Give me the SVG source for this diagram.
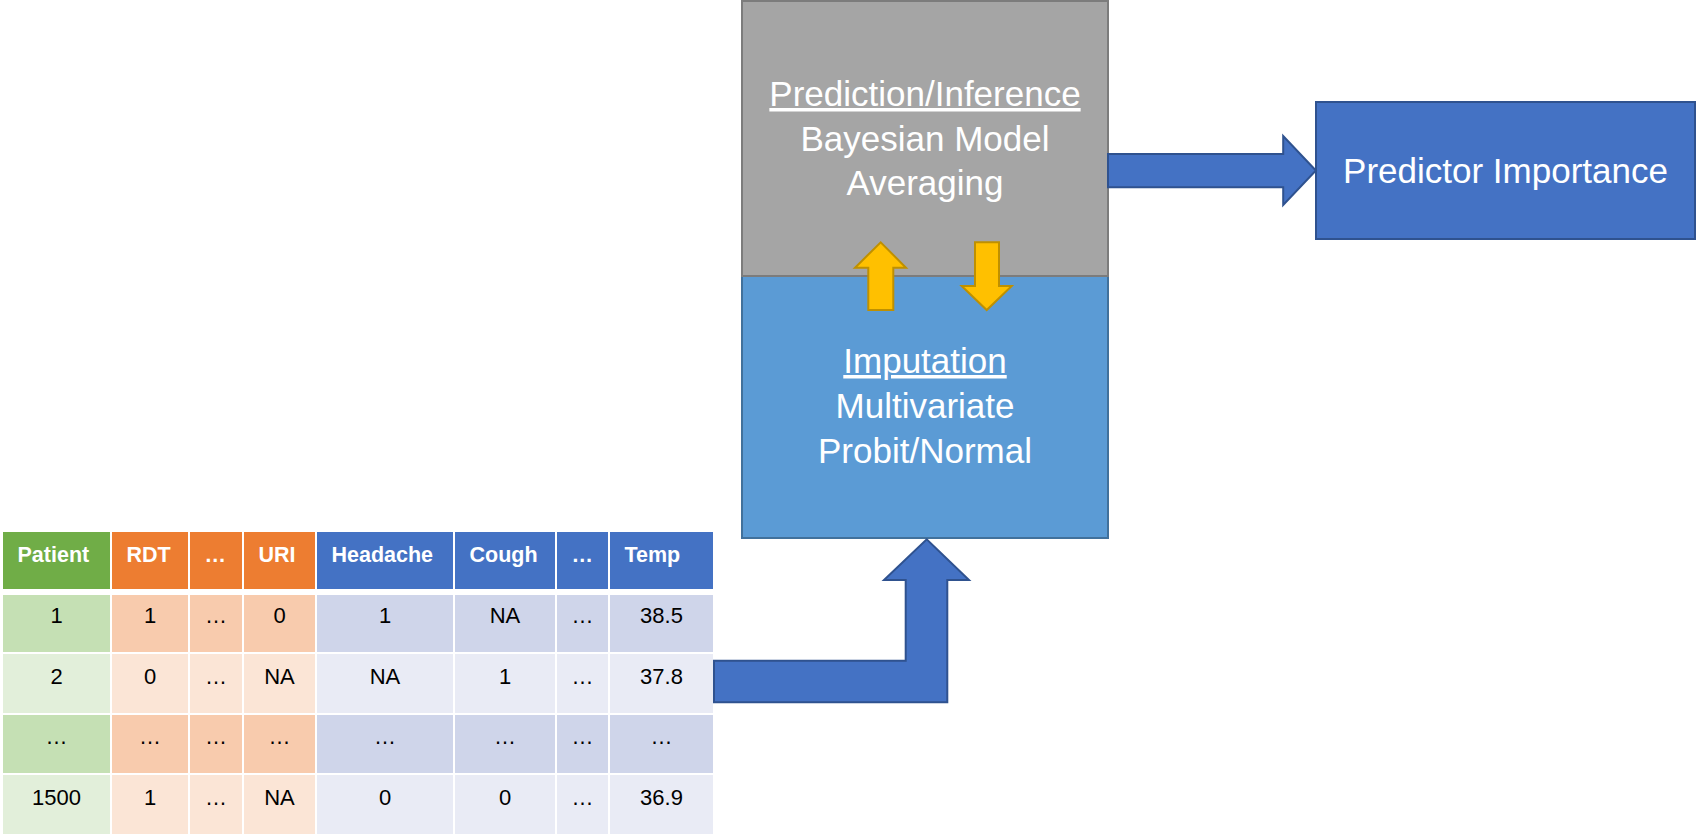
<svg xmlns="http://www.w3.org/2000/svg" width="1696" height="838" viewBox="0 0 1696 838">
<style>
.hd{font-family:"Liberation Sans",Arial,sans-serif;font-weight:bold;font-size:21.5px;fill:#fff}
.dt{font-family:"Liberation Sans",Arial,sans-serif;font-size:22px;fill:#000;text-anchor:middle}
.big{font-family:"Liberation Sans",Arial,sans-serif;font-size:35px;fill:#fff;text-anchor:middle}
.ul{text-decoration:underline}
.gH{fill:#70AD47}.oH{fill:#ED7D31}.bH{fill:#4472C4}
.g1{fill:#C5E0B4}.o1{fill:#F8CBAD}.b1{fill:#CFD5EA}
.g2{fill:#E2EFDA}.o2{fill:#FBE5D6}.b2{fill:#E9EBF5}
.yarrow{fill:#FFC000;stroke:#BF9000;stroke-width:2;stroke-linejoin:miter}
.barrow{fill:#4472C4;stroke:#2F528F;stroke-width:2;stroke-linejoin:miter}
</style>

<g id="table">
  <g id="header">
    <rect class="gH" x="3" y="532" width="107" height="57"/>
    <rect class="oH" x="112" y="532" width="76" height="57"/>
    <rect class="oH" x="190" y="532" width="52" height="57"/>
    <rect class="oH" x="244" y="532" width="71" height="57"/>
    <rect class="bH" x="317" y="532" width="136" height="57"/>
    <rect class="bH" x="455" y="532" width="100" height="57"/>
    <rect class="bH" x="557" y="532" width="51" height="57"/>
    <rect class="bH" x="610" y="532" width="103" height="57"/>
    <text class="hd" x="17.5" y="562">Patient</text>
    <text class="hd" x="126.5" y="562">RDT</text>
    <text class="hd" x="204.5" y="562">…</text>
    <text class="hd" x="258.5" y="562">URI</text>
    <text class="hd" x="331.5" y="562">Headache</text>
    <text class="hd" x="469.5" y="562">Cough</text>
    <text class="hd" x="571.5" y="562">…</text>
    <text class="hd" x="624.5" y="562">Temp</text>
  </g>
  <g id="row1">
    <rect class="g1" x="3" y="595" width="107" height="57"/>
    <rect class="o1" x="112" y="595" width="76" height="57"/>
    <rect class="o1" x="190" y="595" width="52" height="57"/>
    <rect class="o1" x="244" y="595" width="71" height="57"/>
    <rect class="b1" x="317" y="595" width="136" height="57"/>
    <rect class="b1" x="455" y="595" width="100" height="57"/>
    <rect class="b1" x="557" y="595" width="51" height="57"/>
    <rect class="b1" x="610" y="595" width="103" height="57"/>
    <text class="dt" x="56.5" y="623">1</text>
    <text class="dt" x="150" y="623">1</text>
    <text class="dt" x="216" y="623">…</text>
    <text class="dt" x="279.5" y="623">0</text>
    <text class="dt" x="385" y="623">1</text>
    <text class="dt" x="505" y="623">NA</text>
    <text class="dt" x="582.5" y="623">…</text>
    <text class="dt" x="661.5" y="623">38.5</text>
  </g>
  <g id="row2">
    <rect class="g2" x="3" y="654" width="107" height="59"/>
    <rect class="o2" x="112" y="654" width="76" height="59"/>
    <rect class="o2" x="190" y="654" width="52" height="59"/>
    <rect class="o2" x="244" y="654" width="71" height="59"/>
    <rect class="b2" x="317" y="654" width="136" height="59"/>
    <rect class="b2" x="455" y="654" width="100" height="59"/>
    <rect class="b2" x="557" y="654" width="51" height="59"/>
    <rect class="b2" x="610" y="654" width="103" height="59"/>
    <text class="dt" x="56.5" y="684">2</text>
    <text class="dt" x="150" y="684">0</text>
    <text class="dt" x="216" y="684">…</text>
    <text class="dt" x="279.5" y="684">NA</text>
    <text class="dt" x="385" y="684">NA</text>
    <text class="dt" x="505" y="684">1</text>
    <text class="dt" x="582.5" y="684">…</text>
    <text class="dt" x="661.5" y="684">37.8</text>
  </g>
  <g id="row3">
    <rect class="g1" x="3" y="715" width="107" height="58"/>
    <rect class="o1" x="112" y="715" width="76" height="58"/>
    <rect class="o1" x="190" y="715" width="52" height="58"/>
    <rect class="o1" x="244" y="715" width="71" height="58"/>
    <rect class="b1" x="317" y="715" width="136" height="58"/>
    <rect class="b1" x="455" y="715" width="100" height="58"/>
    <rect class="b1" x="557" y="715" width="51" height="58"/>
    <rect class="b1" x="610" y="715" width="103" height="58"/>
    <text class="dt" x="56.5" y="744">…</text>
    <text class="dt" x="150" y="744">…</text>
    <text class="dt" x="216" y="744">…</text>
    <text class="dt" x="279.5" y="744">…</text>
    <text class="dt" x="385" y="744">…</text>
    <text class="dt" x="505" y="744">…</text>
    <text class="dt" x="582.5" y="744">…</text>
    <text class="dt" x="661.5" y="744">…</text>
  </g>
  <g id="row4">
    <rect class="g2" x="3" y="775" width="107" height="59"/>
    <rect class="o2" x="112" y="775" width="76" height="59"/>
    <rect class="o2" x="190" y="775" width="52" height="59"/>
    <rect class="o2" x="244" y="775" width="71" height="59"/>
    <rect class="b2" x="317" y="775" width="136" height="59"/>
    <rect class="b2" x="455" y="775" width="100" height="59"/>
    <rect class="b2" x="557" y="775" width="51" height="59"/>
    <rect class="b2" x="610" y="775" width="103" height="59"/>
    <text class="dt" x="56.5" y="805">1500</text>
    <text class="dt" x="150" y="805">1</text>
    <text class="dt" x="216" y="805">…</text>
    <text class="dt" x="279.5" y="805">NA</text>
    <text class="dt" x="385" y="805">0</text>
    <text class="dt" x="505" y="805">0</text>
    <text class="dt" x="582.5" y="805">…</text>
    <text class="dt" x="661.5" y="805">36.9</text>
  </g>
</g>

<g id="imputation">
  <rect x="742" y="276" width="366" height="262" fill="#5B9BD5" stroke="#41719C" stroke-width="2"/>
  <text class="big" x="925" y="373"><tspan class="ul">Imputation</tspan></text>
  <text class="big" x="925" y="418">Multivariate</text>
  <text class="big" x="925" y="463">Probit/Normal</text>
</g>

<g id="prediction">
  <rect x="742" y="1" width="366" height="275" fill="#A5A5A5" stroke="#7C7C7C" stroke-width="2"/>
  <text class="big" x="925" y="106"><tspan class="ul">Prediction/Inference</tspan></text>
  <text class="big" x="925" y="150.5">Bayesian Model</text>
  <text class="big" x="925" y="195">Averaging</text>
</g>

<g id="predictor-importance">
  <rect x="1316" y="102" width="379" height="137" fill="#4472C4" stroke="#2F528F" stroke-width="2"/>
  <text class="big" x="1505.5" y="182.5">Predictor Importance</text>
</g>

<g id="connectors">
  <polygon class="barrow" points="714,660.7 905.7,660.7 905.7,580 884,580 926.7,539.3 969,580 947.3,580 947.3,702.3 714,702.3"/>
  <polygon class="barrow" points="1108,154 1283.2,154 1283.2,136 1315.9,170.5 1283.2,205 1283.2,187.3 1108,187.3"/>
  <polygon class="yarrow" points="868.3,310 868.3,267.7 855,267.7 880.7,242.3 906,267.7 893.3,267.7 893.3,310"/>
  <polygon class="yarrow" points="975,242.3 999,242.3 999,286 1011.7,286 986.7,310 961.7,286 975,286"/>
</g>
</svg>
